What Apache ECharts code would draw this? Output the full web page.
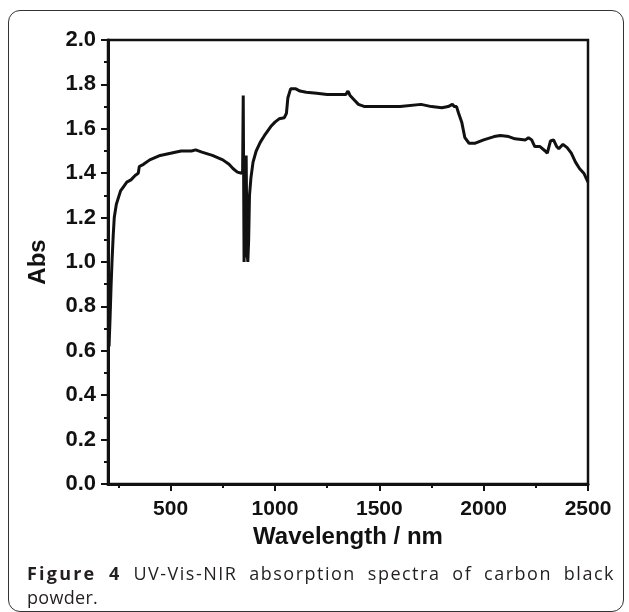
<!DOCTYPE html>
<html>
<head>
<meta charset="utf-8">
<script src="https://cdn.jsdelivr.net/npm/echarts@6/dist/echarts.min.js"></script>
<style>
    body { margin: 0; background: #fff; }
    .fig-box {
        position: absolute;
        left: 8px;
        top: 10px;
        width: 614px;
        height: 600px;
        border: 1.5px solid #333;
        border-radius: 12px;
    }
    #chart {
        position: absolute;
        left: 0;
        top: 0;
        width: 629px;
        height: 612px;
    }
    .caption {
        position: absolute;
        left: 27px;
        top: 561px;
        width: 588px;
        font-family: "Open Sans", sans-serif;
        font-size: 18px;
        line-height: 24px;
        color: #231f20;
    }
    .caption .line1 { text-align: justify; text-align-last: justify; letter-spacing: 1.5px; }
    .caption .line2 { letter-spacing: 0.3px; }
    .caption b { letter-spacing: 2.2px; }
</style>
</head>
<body>
<div class="fig-box"></div>
<div id="chart"></div>
<div class="caption">
    <div class="line1"><b>Figure 4</b> UV-Vis-NIR absorption spectra of carbon black</div>
    <div class="line2">powder.</div>
</div>

<script>
    // 波长 (nm)
    const wavelength = [205, 210, 215, 220, 225, 230, 240, 250, 260, 275, 290, 310, 330, 345, 350, 370, 400, 450, 500, 550,
        600, 620, 650, 700, 750, 780, 800, 820, 840, 845, 848, 850, 852, 856, 859, 862, 866, 870, 874, 878, 885,
        895, 910, 930, 950, 980, 1000, 1020, 1045, 1055, 1062, 1075, 1100, 1120, 1150, 1200, 1250, 1300, 1340, 1350, 1360,
        1380, 1400, 1430, 1500, 1600, 1700, 1750, 1800, 1830, 1850, 1860, 1870, 1880, 1895, 1910, 1930, 1960, 2000, 2050, 2080,
        2120, 2150, 2200, 2215, 2230, 2245, 2270, 2295, 2305, 2320, 2335, 2350, 2360, 2380, 2400, 2420, 2440, 2460, 2480, 2500]
    // 吸光度
    const absorbance = [0.62, 0.75, 0.90, 1.02, 1.12, 1.20, 1.26, 1.29, 1.32, 1.34, 1.36, 1.37, 1.39, 1.40, 1.43, 1.44, 1.46, 1.48, 1.49, 1.50,
        1.50, 1.505, 1.495, 1.48, 1.46, 1.44, 1.42, 1.405, 1.40, 1.41, 1.75, 1.75, 1.00, 1.35, 1.02, 1.48, 1.05, 1.00, 1.10, 1.30, 1.38,
        1.45, 1.50, 1.54, 1.57, 1.61, 1.63, 1.645, 1.65, 1.67, 1.74, 1.78, 1.78, 1.77, 1.765, 1.76, 1.755, 1.755, 1.755, 1.77, 1.75,
        1.73, 1.71, 1.70, 1.70, 1.70, 1.71, 1.70, 1.695, 1.70, 1.71, 1.70, 1.70, 1.67, 1.63, 1.56, 1.535, 1.535, 1.55, 1.565, 1.57,
        1.565, 1.555, 1.55, 1.56, 1.55, 1.52, 1.52, 1.50, 1.49, 1.545, 1.55, 1.52, 1.51, 1.53, 1.515, 1.49, 1.45, 1.42, 1.40, 1.36]
    // 刻度
    const xMajorTicks = [500, 1000, 1500, 2000, 2500]
    const xMinorTicks = [250, 750, 1250, 1750, 2250]

    const axisFont = {
        fontFamily: 'Liberation Sans, Arial, sans-serif',
        fontWeight: 'bold',
        color: '#111'
    }

    let chart = echarts.init(document.getElementById('chart'), null, {renderer: 'canvas'})
    chart.setOption({
        animation: false,
        grid: {
            left: 108,
            right: 41,
            top: 40,
            bottom: 128,
            show: true,
            borderColor: '#111',
            borderWidth: 2.5,
            backgroundColor: 'transparent'
        },
        xAxis: [
            {
                type: 'value',
                min: 200,
                max: 2500,
                name: 'Wavelength / nm',
                nameLocation: 'middle',
                nameGap: 41,
                nameTextStyle: Object.assign({fontSize: 24}, axisFont),
                splitLine: {show: false},
                axisLine: {show: true, lineStyle: {color: '#111', width: 3}},
                axisTick: {show: true, inside: false, length: 7, lineStyle: {width: 2, color: '#111'}, customValues: xMajorTicks},
                axisLabel: Object.assign({
                    fontSize: 21,
                    margin: 15,
                    customValues: xMajorTicks,
                    formatter: v => String(v)
                }, axisFont)
            },
            {
                type: 'value',
                min: 200,
                max: 2500,
                position: 'bottom',
                splitLine: {show: false},
                axisLine: {show: false},
                axisTick: {show: true, inside: false, length: 4, lineStyle: {width: 2, color: '#111'}, customValues: xMinorTicks},
                axisLabel: {show: false}
            }
        ],
        yAxis: {
            type: 'value',
            min: 0,
            max: 2,
            interval: 0.2,
            name: 'Abs',
            nameLocation: 'middle',
            nameGap: 58,
            nameTextStyle: Object.assign({fontSize: 24}, axisFont),
            splitLine: {show: false},
            axisLine: {show: true, lineStyle: {color: '#111', width: 3}},
            axisTick: {show: true, inside: false, length: 7, lineStyle: {width: 2, color: '#111'}},
            minorTick: {show: true, splitNumber: 2, length: 4, lineStyle: {width: 2, color: '#111'}},
            axisLabel: Object.assign({
                fontSize: 22,
                margin: 12,
                formatter: v => v.toFixed(1)
            }, axisFont)
        },
        series: [
            {
                name: 'Abs',
                type: 'line',
                showSymbol: false,
                data: wavelength.map((w, i) => [w, absorbance[i]]),
                lineStyle: {color: '#111', width: 3},
                z: 3
            }
        ]
    })
</script>
</body>
</html>
